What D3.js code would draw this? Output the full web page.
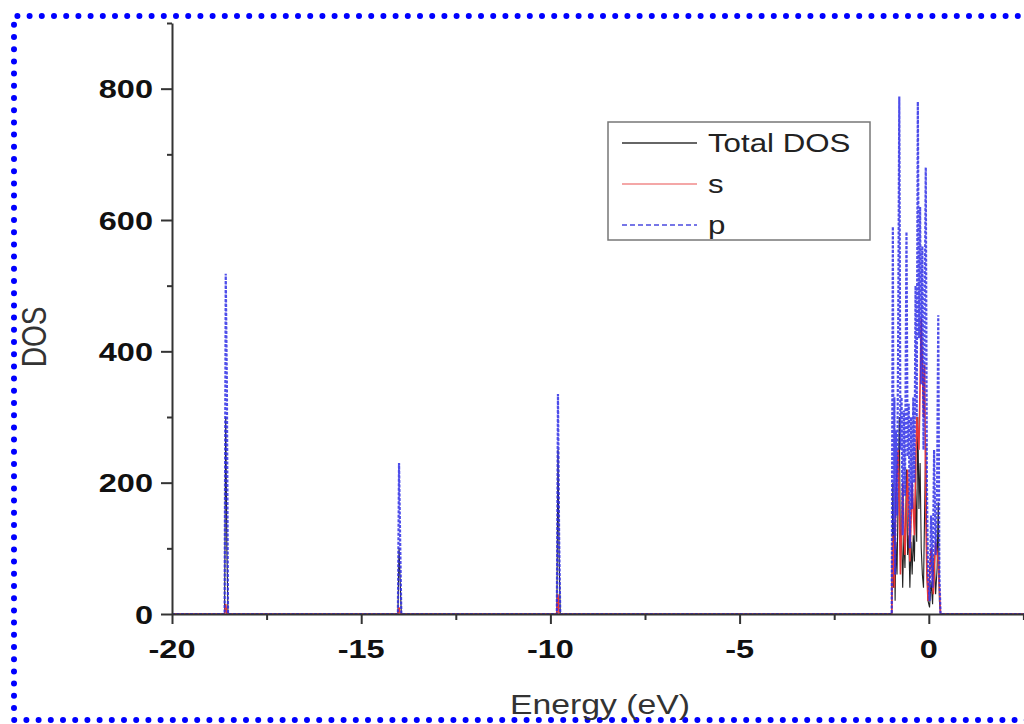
<!DOCTYPE html>
<html>
<head>
<meta charset="utf-8">
<script src="https://cdn.jsdelivr.net/npm/d3@7"></script>
<style>
  body { margin: 0; background: #fff; }
  svg { display: block; font-family: "Liberation Sans", Arial, sans-serif; }
</style>
</head>
<body>
<svg id="chart" width="1024" height="724"></svg>
<script>
// axis ticks
const xTicks = [-20, -15, -10, -5, 0];
const xMinor = [-17.5, -12.5, -7.5, -2.5, 2.5];
const yTicks = [0, 200, 400, 600, 800];
const yMinor = [100, 300, 500, 700, 900];

// series: [energy (eV), DOS]
const totalDos = [
  [-20, 0], [-18.61, 0], [-18.58, 300], [-18.55, 100], [-18.52, 0],
  [-14.03, 0], [-14.0, 100], [-13.97, 50], [-13.94, 0],
  [-9.83, 0], [-9.8, 250], [-9.77, 90], [-9.74, 0],
  [-0.98, 0], [-0.95, 200], [-0.93, 40], [-0.91, 140], [-0.89, 20], [-0.87, 110],
  [-0.84, 60], [-0.81, 180], [-0.78, 300], [-0.75, 90], [-0.72, 130], [-0.69, 40],
  [-0.66, 120], [-0.63, 70], [-0.59, 220], [-0.56, 90], [-0.53, 120], [-0.5, 40],
  [-0.47, 110], [-0.44, 60], [-0.41, 120], [-0.38, 80], [-0.35, 190], [-0.32, 110],
  [-0.29, 300], [-0.26, 160], [-0.23, 230], [-0.2, 100], [-0.17, 60], [-0.14, 40],
  [-0.11, 160], [-0.08, 260], [-0.05, 70], [-0.02, 20], [0.02, 10], [0.06, 50],
  [0.1, 15], [0.14, 90], [0.18, 30], [0.22, 70], [0.25, 170], [0.28, 20], [0.31, 0], [5, 0]
];
const sDos = [
  [-20, 0], [-18.61, 0], [-18.58, 15], [-18.55, 0],
  [-14.03, 0], [-14.0, 10], [-13.97, 0],
  [-9.83, 0], [-9.8, 30], [-9.77, 0],
  [-0.98, 0], [-0.95, 120], [-0.91, 40], [-0.87, 180], [-0.81, 250], [-0.75, 60],
  [-0.69, 200], [-0.63, 90], [-0.56, 220], [-0.5, 80], [-0.44, 200], [-0.38, 120],
  [-0.32, 300], [-0.26, 250], [-0.2, 450], [-0.17, 380], [-0.14, 300], [-0.11, 380],
  [-0.08, 150], [-0.05, 60], [-0.02, 20], [0.06, 100], [0.12, 30], [0.18, 110],
  [0.25, 80], [0.31, 0], [5, 0]
];
const pDos = [
  [-20, 0], [-18.61, 0], [-18.58, 518], [-18.55, 350], [-18.52, 0],
  [-14.03, 0], [-14.0, 230], [-13.97, 110], [-13.94, 0],
  [-9.83, 0], [-9.8, 335], [-9.77, 120], [-9.74, 0],
  [-0.98, 0], [-0.95, 590], [-0.93, 120], [-0.91, 330], [-0.89, 60], [-0.87, 280],
  [-0.84, 150], [-0.81, 420], [-0.78, 788], [-0.75, 250], [-0.72, 330], [-0.69, 120],
  [-0.66, 310], [-0.63, 180], [-0.59, 582], [-0.56, 240], [-0.53, 320], [-0.5, 100],
  [-0.47, 300], [-0.44, 160], [-0.41, 330], [-0.38, 200], [-0.35, 500], [-0.32, 300],
  [-0.29, 780], [-0.26, 420], [-0.23, 620], [-0.2, 350], [-0.17, 560], [-0.14, 250],
  [-0.11, 450], [-0.08, 680], [-0.05, 200], [-0.02, 60], [0.02, 20], [0.06, 150],
  [0.1, 40], [0.14, 250], [0.18, 90], [0.22, 200], [0.25, 455], [0.28, 60], [0.31, 0], [5, 0]
];

const seriesNames = ["Total DOS", "s", "p"];
const seriesColors = ["#222222", "#e8383a", "#2f2fe6"];
const legendColors = ["#333333", "#f08a8a", "#4a4ae0"];
const seriesDash = [null, null, "3,1.5"];
const seriesWidth = [1.1, 1.6, 2.2];
const seriesData = [totalDos, sDos, pDos];

const stretch = 1.25; // text in the picture is drawn wide

const svg = d3.select("#chart");

// dotted frame round the picture
svg.append("path")
  .attr("d", "M1030,16 L14,16 L14,720 L1030,720")
  .attr("fill", "none")
  .attr("stroke", "#0000ff")
  .attr("stroke-width", 6)
  .attr("stroke-linecap", "round")
  .attr("stroke-dasharray", "0,12.2");

const x = d3.scaleLinear().domain([-20, 5]).range([172, 1118]);
const y = d3.scaleLinear().domain([0, 900]).range([614, 23]);

const line = d3.line().x(d => x(d[0])).y(d => y(d[1]));

seriesData.forEach((data, i) => {
  svg.append("path")
    .attr("d", line(data))
    .attr("fill", "none")
    .attr("stroke", seriesColors[i])
    .attr("stroke-width", seriesWidth[i])
    .attr("stroke-opacity", i === 2 ? 0.85 : 1)
    .attr("stroke-dasharray", seriesDash[i]);
});

// axes
svg.append("g").attr("transform", "translate(0,614)")
  .call(d3.axisBottom(x).tickValues(xTicks).tickSize(10).tickSizeOuter(0).tickFormat(""));
svg.append("g").attr("transform", "translate(0,614)")
  .call(d3.axisBottom(x).tickValues(xMinor).tickSize(6).tickSizeOuter(0).tickFormat(""))
  .select(".domain").remove();
svg.append("g").attr("transform", "translate(172,0)")
  .call(d3.axisLeft(y).tickValues(yTicks).tickSize(11).tickSizeOuter(0).tickFormat(""));
svg.append("g").attr("transform", "translate(172,0)")
  .call(d3.axisLeft(y).tickValues(yMinor).tickSize(5).tickSizeOuter(0).tickFormat(""))
  .select(".domain").remove();

svg.selectAll(".domain, .tick line").attr("stroke", "#333").attr("stroke-width", 2);

// tick labels, drawn wide like the picture
svg.append("g").selectAll("text")
  .data(xTicks).enter().append("text")
  .attr("transform", d => "translate(" + x(d) + ",658) scale(" + stretch + ",1)")
  .attr("text-anchor", "middle")
  .attr("font-size", 26).attr("font-weight", "bold").attr("fill", "#111")
  .text(d => String(d));
svg.append("g").selectAll("text")
  .data(yTicks).enter().append("text")
  .attr("transform", d => "translate(153," + (y(d) + 9.5) + ") scale(" + stretch + ",1)")
  .attr("text-anchor", "end")
  .attr("font-size", 26).attr("font-weight", "bold").attr("fill", "#111")
  .text(d => String(d));

// axis titles
svg.append("text")
  .attr("transform", "translate(600,714) scale(" + stretch + ",1)")
  .attr("text-anchor", "middle")
  .attr("font-size", 27).attr("fill", "#333")
  .text("Energy (eV)");
svg.append("text")
  .attr("transform", "translate(46,337) scale(" + stretch + ",1) rotate(-90)")
  .attr("text-anchor", "middle")
  .attr("font-size", 28).attr("fill", "#333")
  .text("DOS");

// legend
const legend = svg.append("g");
legend.append("rect")
  .attr("x", 608).attr("y", 122).attr("width", 262).attr("height", 118)
  .attr("fill", "#fff").attr("stroke", "#777").attr("stroke-width", 1.5);
seriesNames.forEach((name, i) => {
  const ly = 143 + i * 41;
  legend.append("line")
    .attr("x1", 622).attr("x2", 697).attr("y1", ly).attr("y2", ly)
    .attr("stroke", legendColors[i])
    .attr("stroke-width", 1.6)
    .attr("stroke-dasharray", i === 2 ? "5,3" : null);
  legend.append("text")
    .attr("transform", "translate(708," + (ly + 9) + ") scale(" + stretch + ",1)")
    .attr("font-size", 25).attr("fill", "#222")
    .text(name);
});
</script>
</body>
</html>
